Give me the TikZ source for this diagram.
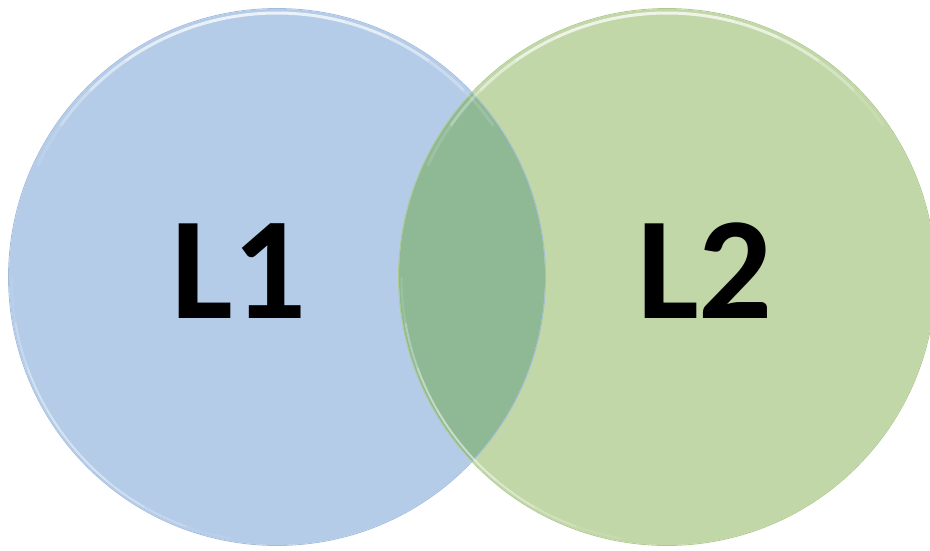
\documentclass[tikz,border=0pt]{standalone}
\usepackage{fontspec}
\setmainfont{Carlito}
\begin{document}
\begin{tikzpicture}[x=1pt,y=-1pt,
  setblue/.style={fill=blueset},
  setgreen/.style={fill=greenset},
  rim/.style={draw=white,line width=3pt,draw opacity=#1},
  edge/.style={draw=#1,line width=0.8pt},
  setlabel/.style={font=\bfseries\fontsize{146}{146}\selectfont,inner sep=0pt,text=black}]
\definecolor{blueset}{HTML}{B4CCE8}
\definecolor{greenset}{HTML}{C2D7A7}
\definecolor{bothsets}{HTML}{8FB995}
\definecolor{blueedge}{HTML}{A3BCDD}
\definecolor{greenedge}{HTML}{AECA8F}
\useasboundingbox (0,0) rectangle (930,551);
\fill[white] (0,0) rectangle (930,551);
% the two sets
\coordinate (cA) at (277,277);
\coordinate (cB) at (667,277);
\fill[setblue] (cA) circle (268);
\fill[setgreen] (cB) circle (268);
% their intersection
\begin{scope}
  \clip (cA) circle (268);
  \fill[bothsets] (cB) circle (268);
\end{scope}
% soft outlines
\draw[edge=blueedge] (cA) circle (268.5);
\draw[edge=greenedge] (cB) circle (268.5);
% bevel highlights along the upper rims (y grows downwards here),
% built from short arcs whose opacity fades towards both ends
\foreach \c in {cA,cB}{
  \foreach \a/\o in {205/0.12,215/0.3,225/0.5,235/0.65,245/0.72,255/0.75,265/0.75,275/0.72,285/0.65,295/0.5,305/0.3,315/0.12}{
    \draw[rim=\o] (\c) ++(\a:264) arc[start angle=\a,end angle=\a+10,radius=264];
  }
}
% fainter highlights along the lower left rims
\foreach \c/\s in {cA/0.9,cB/1}{
  \foreach \a/\o in {180/0.1,170/0.3,160/0.45,150/0.5,140/0.5,130/0.4,120/0.25,110/0.1}{
    \draw[rim=\s*\o,line width=2pt] (\c) ++(\a:265.5) arc[start angle=\a,end angle=\a-10,radius=265.5];
  }
}
% labels
\node[setlabel] (l1) at (239,271) {L1};
\node[setlabel] (l2) at (705,271) {L2};
\end{tikzpicture}
\end{document}
